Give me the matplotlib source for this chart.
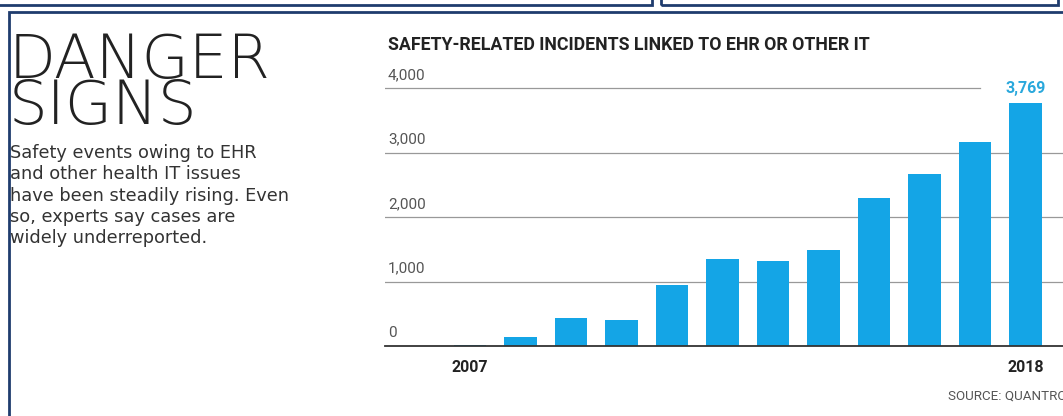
import matplotlib
matplotlib.use("Agg")
import matplotlib.pyplot as plt
from matplotlib.patches import Rectangle
from matplotlib.transforms import blended_transform_factory

# data
years = [2007, 2008, 2009, 2010, 2011, 2012, 2013, 2014, 2015, 2016, 2017, 2018]
incidents = [12, 140, 434, 403, 946, 1349, 1318, 1488, 2295, 2667, 3163, 3769]
grid_vals = [0, 1000, 2000, 3000, 4000]
grid_labels = ["0", "1,000", "2,000", "3,000", "4,000"]
year_labels = ["2007", "2018"]

W, H = 1063, 416
navy = "#1f3c6e"
blue = "#14a5e6"
cond = ["Roboto", "DejaVu Sans"]

fig = plt.figure(figsize=(W / 100, H / 100), dpi=100)
fig.patch.set_facecolor("white")


def fx(px):
    return px / W


def fy(py):
    return 1 - py / H


# frames
def frame(x0, y0, x1, y1, lw=2):
    fig.add_artist(Rectangle((fx(x0), fy(y1)), fx(x1) - fx(x0), fy(y0) - fy(y1),
                             transform=fig.transFigure, fill=False,
                             edgecolor=navy, lw=lw))


frame(-5, -10, 652, 5)
frame(661, -10, 1058, 5)
frame(9, 12, 1080, 430)

# left side text
fig.text(fx(9), fy(124), "DANGER\nSIGNS", fontsize=44, fontweight="ultralight",
         color="#222222", family="DejaVu Sans", va="baseline", ha="left",
         linespacing=0.72)
body = "\n".join(["Safety events owing to EHR", "and other health IT issues",
                  "have been steadily rising. Even", "so, experts say cases are",
                  "widely underreported."])
fig.text(fx(10), fy(243), body, fontsize=12.8, color="#333333",
         family="DejaVu Sans", va="baseline", ha="left", linespacing=1.23)

fig.text(fx(388), fy(45), "SAFETY-RELATED INCIDENTS LINKED TO EHR OR OTHER IT",
         fontsize=12.8, fontweight="bold", color="#222222", family=cond,
         va="center", ha="left")

# bar chart
ax = fig.add_axes([fx(385), fy(346), 1 - fx(385), fy(80) - fy(346)])
ax.bar(range(len(years)), incidents, width=0.64, color=blue, zorder=2)
ax.set_xlim((385 - 470) / 50.5, (1063 - 470) / 50.5)
ax.set_ylim(0, (346 - 80) / 64.5 * 1000)
ax.axis("off")

tr = blended_transform_factory(ax.transAxes, ax.transData)
for v, lab in zip(grid_vals, grid_labels):
    if v == 0:
        ax.axhline(v, color="#333333", lw=1.3, zorder=3, clip_on=False)
    elif v == 4000:
        ax.axhline(v, xmax=(980 - 385) / (1063 - 385), color="#999999", lw=0.9, zorder=1)
    else:
        ax.axhline(v, color="#999999", lw=0.9, zorder=1)
    ax.text(3 / 678, v + 90, lab, transform=tr, fontsize=11, color="#555555",
            family=cond, va="bottom", ha="left")

for yr_lab in year_labels:
    i = years.index(int(yr_lab))
    ax.text(i, -330, yr_lab, fontsize=11.5, fontweight="bold", color="#222222",
            family=cond, ha="center", va="center", clip_on=False)

ax.text(len(years) - 1, incidents[-1] + 100, f"{incidents[-1]:,}", fontsize=11.5,
        fontweight="bold", color="#2aa8dc", family=cond, ha="center", va="bottom")

fig.text(fx(948), fy(396), "SOURCE: QUANTROS", fontsize=9.6, color="#555555",
         family=cond, ha="left", va="center")

fig.savefig("out.png", dpi=100)
